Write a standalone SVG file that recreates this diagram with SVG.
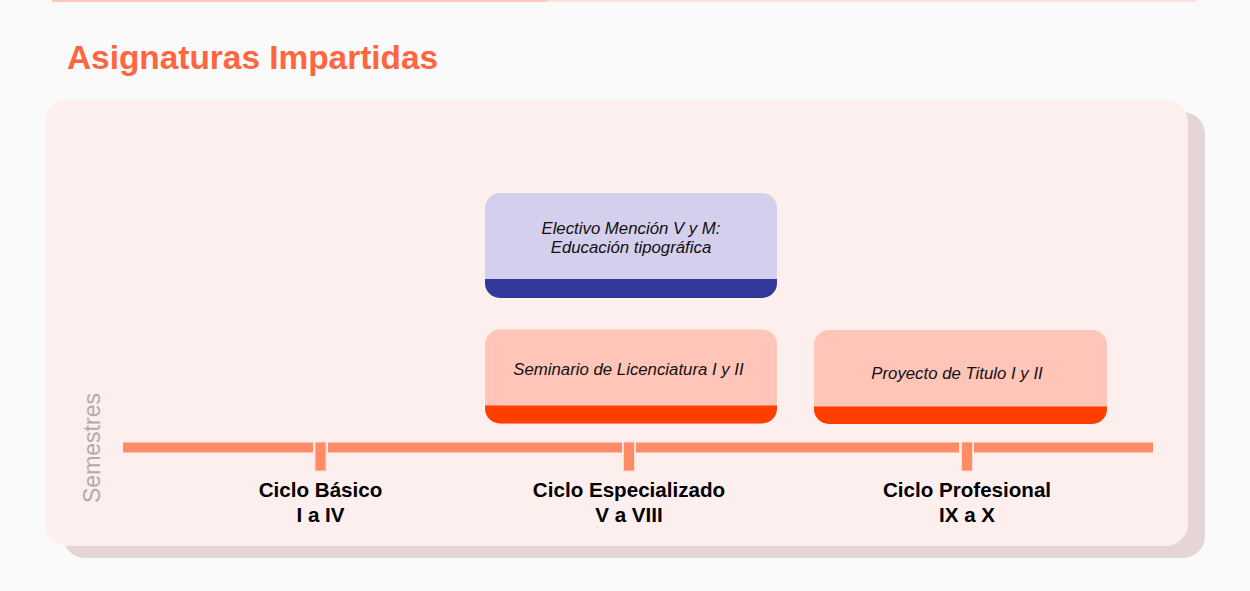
<svg xmlns="http://www.w3.org/2000/svg" width="1250" height="591" viewBox="0 0 1250 591">
<style>
.bold{font-family:"Liberation Sans",Arial,sans-serif;font-weight:bold;font-size:20.6px;fill:#000;text-anchor:middle}
.it{font-family:"Liberation Sans",Arial,sans-serif;font-style:italic;font-size:16.8px;fill:#111;text-anchor:middle}
.tl{fill:#ff8c66}
.tick{fill:#ff8c66;stroke:#ffd9cf;stroke-width:1}
</style>
<rect x="0" y="0" width="1250" height="591" fill="#fafafa"/>
<rect x="52" y="0" width="495" height="2" fill="#ffc8b8"/>
<rect x="547" y="0" width="650" height="2" fill="#ffe0da"/>
<text x="67" y="69" font-family="Liberation Sans, Arial, sans-serif" font-weight="bold" font-size="33.4" fill="#ff6640">Asignaturas Impartidas</text>
<g id="card">
<rect x="63" y="112" width="1142" height="446" rx="22" fill="#e5d5d5"/>
<rect x="45" y="100" width="1143" height="446" rx="22" fill="#fdefee"/>
</g>
<text transform="translate(100,448) rotate(-90)" text-anchor="middle" font-family="Liberation Sans, Arial, sans-serif" font-size="23" fill="#b3aaaa">Semestres</text>
<g id="timeline">
<rect class="tl" x="123" y="442.5" width="190" height="10"/>
<rect class="tl" x="328" y="442.5" width="294" height="10"/>
<rect class="tl" x="636" y="442.5" width="323" height="10"/>
<rect class="tl" x="974" y="442.5" width="179" height="10"/>
<rect class="tick" x="315" y="442" width="11" height="29"/>
<rect class="tick" x="623.5" y="442" width="11" height="29"/>
<rect class="tick" x="961.5" y="442" width="11" height="29"/>
</g>
<g id="ciclo-basico">
<text class="bold" x="320.5" y="497">Ciclo Básico</text>
<text class="bold" x="320.5" y="522">I a IV</text>
</g>
<g id="ciclo-especializado">
<text class="bold" x="629" y="497">Ciclo Especializado</text>
<text class="bold" x="629" y="522">V a VIII</text>
</g>
<g id="ciclo-profesional">
<text class="bold" x="967" y="497">Ciclo Profesional</text>
<text class="bold" x="967" y="522">IX a X</text>
</g>
<g id="electivo">
<path d="M500,193 H762 A15,15 0 0 1 777,208 V283 A15,15 0 0 1 762,298 H500 A15,15 0 0 1 485,283 V208 A15,15 0 0 1 500,193 Z" fill="#d3cfec"/>
<path d="M485,279 H777 V283 A15,15 0 0 1 762,298 H500 A15,15 0 0 1 485,283 Z" fill="#333999"/>
<text class="it" x="631" y="234">Electivo Mención V y M:</text>
<text class="it" x="631" y="253">Educación tipográfica</text>
</g>
<g id="seminario">
<path d="M500,329.5 H762 A15,15 0 0 1 777,344.5 V408.5 A15,15 0 0 1 762,423.5 H500 A15,15 0 0 1 485,408.5 V344.5 A15,15 0 0 1 500,329.5 Z" fill="#ffc5b8"/>
<path d="M485,405.5 H777 V408.5 A15,15 0 0 1 762,423.5 H500 A15,15 0 0 1 485,408.5 Z" fill="#ff3f00"/>
<text class="it" x="628.5" y="375">Seminario de Licenciatura I y II</text>
</g>
<g id="proyecto">
<path d="M829,330 H1092 A15,15 0 0 1 1107,345 V409 A15,15 0 0 1 1092,424 H829 A15,15 0 0 1 814,409 V345 A15,15 0 0 1 829,330 Z" fill="#ffc5b8"/>
<path d="M814,406.5 H1107 V409 A15,15 0 0 1 1092,424 H829 A15,15 0 0 1 814,409 Z" fill="#ff3f00"/>
<text class="it" x="957" y="379">Proyecto de Titulo I y II</text>
</g>
</svg>
